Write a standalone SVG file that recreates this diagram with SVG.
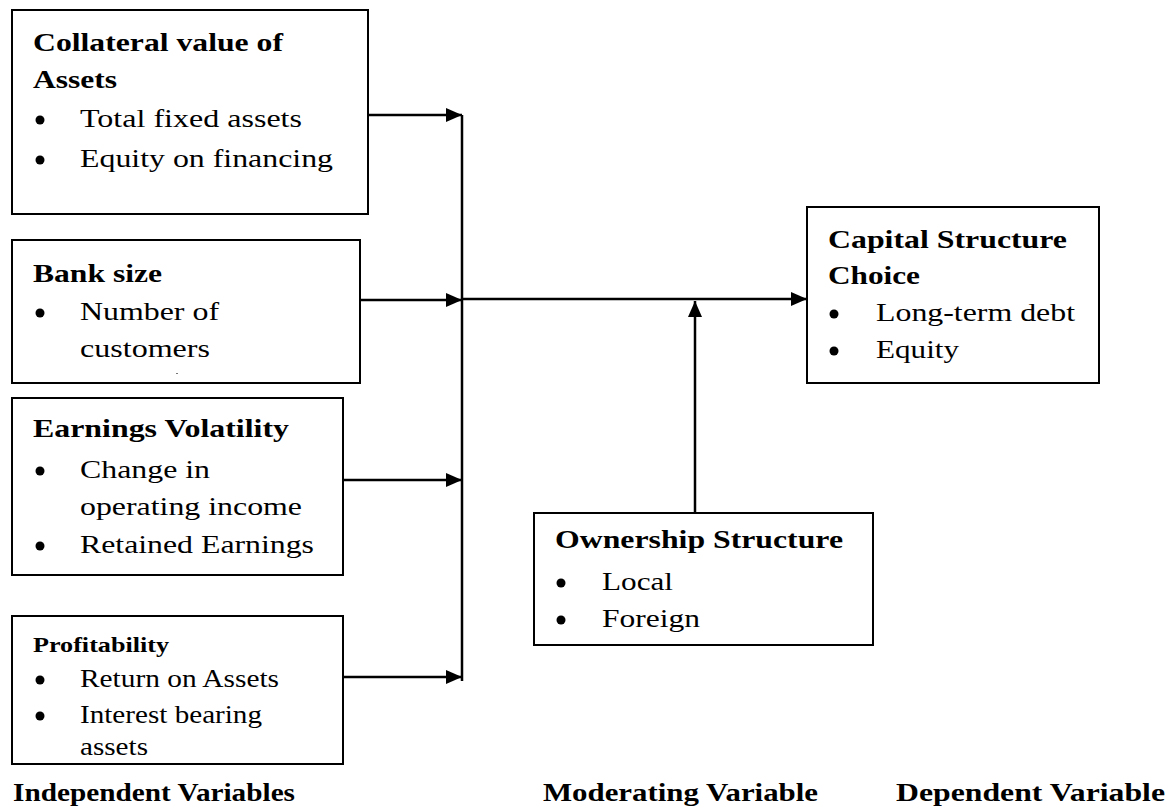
<svg xmlns="http://www.w3.org/2000/svg" width="1168" height="807" viewBox="0 0 1168 807">
<style>
.box{fill:#fff;stroke:#000;stroke-width:2}
.t{font-family:"Liberation Serif","Times New Roman",serif;font-size:26px;fill:#000}
.b{font-weight:bold}
.s{font-size:21px}
.m{font-size:25px}
.c{stroke:#000;stroke-width:2.5;fill:none}
</style>
<defs>
<marker id="ah2" markerWidth="16" markerHeight="14" refX="16" refY="7" orient="auto" markerUnits="userSpaceOnUse" viewBox="0 0 16 14">
<path d="M0,0 L16,7 L0,14 z" fill="#000"/>
</marker>
<circle id="bul" r="4.5" fill="#000"/>
</defs>
<rect width="1168" height="807" fill="#fff"/>

<g id="connectors">
<line class="c" x1="462" y1="115" x2="462" y2="681"/>
<line class="c" x1="361" y1="115" x2="462" y2="115" marker-end="url(#ah2)"/>
<line class="c" x1="360" y1="300" x2="462" y2="300" marker-end="url(#ah2)"/>
<line class="c" x1="343" y1="480" x2="462" y2="480" marker-end="url(#ah2)"/>
<line class="c" x1="343" y1="677" x2="462" y2="677" marker-end="url(#ah2)"/>
<line class="c" x1="462" y1="299" x2="807" y2="299" marker-end="url(#ah2)"/>
<line class="c" x1="695" y1="513" x2="695" y2="301" marker-end="url(#ah2)"/>
</g>

<g id="collateral">
<rect class="box" x="12" y="10" width="356" height="204"/>
<text class="t b" x="33" y="51" textLength="250" lengthAdjust="spacingAndGlyphs">Collateral value of</text>
<text class="t b" x="33" y="88" textLength="84" lengthAdjust="spacingAndGlyphs">Assets</text>
<use href="#bul" x="40" y="120"/>
<text class="t" x="80" y="127" textLength="222" lengthAdjust="spacingAndGlyphs">Total fixed assets</text>
<use href="#bul" x="40" y="160"/>
<text class="t" x="80" y="167" textLength="253" lengthAdjust="spacingAndGlyphs">Equity on financing</text>
</g>

<g id="banksize">
<rect class="box" x="12" y="240" width="348" height="143"/>
<text class="t b" x="33" y="282" textLength="129" lengthAdjust="spacingAndGlyphs">Bank size</text>
<use href="#bul" x="40" y="313"/>
<text class="t" x="80" y="320" textLength="139" lengthAdjust="spacingAndGlyphs">Number of</text>
<text class="t" x="80" y="357" textLength="130" lengthAdjust="spacingAndGlyphs">customers</text>
<rect x="176" y="373" width="2" height="1" fill="#777"/>
</g>

<g id="earnings">
<rect class="box" x="12" y="398" width="331" height="177"/>
<text class="t b" x="33" y="437" textLength="256" lengthAdjust="spacingAndGlyphs">Earnings Volatility</text>
<use href="#bul" x="40" y="471"/>
<text class="t" x="80" y="478" textLength="130" lengthAdjust="spacingAndGlyphs">Change in</text>
<text class="t" x="80" y="515" textLength="222" lengthAdjust="spacingAndGlyphs">operating income</text>
<use href="#bul" x="40" y="546"/>
<text class="t" x="80" y="553" textLength="234" lengthAdjust="spacingAndGlyphs">Retained Earnings</text>
</g>

<g id="profitability">
<rect class="box" x="12" y="616" width="331" height="148"/>
<text class="t b s" x="33" y="652" textLength="136" lengthAdjust="spacingAndGlyphs">Profitability</text>
<use href="#bul" x="40" y="680"/>
<text class="t m" x="80" y="687" textLength="199" lengthAdjust="spacingAndGlyphs">Return on Assets</text>
<use href="#bul" x="40" y="716"/>
<text class="t m" x="80" y="723" textLength="182" lengthAdjust="spacingAndGlyphs">Interest bearing</text>
<text class="t m" x="80" y="755" textLength="68" lengthAdjust="spacingAndGlyphs">assets</text>
</g>

<g id="capital">
<rect class="box" x="807" y="207" width="292" height="176"/>
<text class="t b" x="828" y="248" textLength="239" lengthAdjust="spacingAndGlyphs">Capital Structure</text>
<text class="t b" x="828" y="284" textLength="92" lengthAdjust="spacingAndGlyphs">Choice</text>
<use href="#bul" x="834" y="314"/>
<text class="t" x="876" y="321" textLength="199" lengthAdjust="spacingAndGlyphs">Long-term debt</text>
<use href="#bul" x="834" y="351"/>
<text class="t" x="876" y="358" textLength="83" lengthAdjust="spacingAndGlyphs">Equity</text>
</g>

<g id="ownership">
<rect class="box" x="534" y="513" width="339" height="132"/>
<text class="t b" x="555" y="548" textLength="288" lengthAdjust="spacingAndGlyphs">Ownership Structure</text>
<use href="#bul" x="561" y="583"/>
<text class="t" x="602" y="590" textLength="71" lengthAdjust="spacingAndGlyphs">Local</text>
<use href="#bul" x="561" y="620"/>
<text class="t" x="602" y="627" textLength="98" lengthAdjust="spacingAndGlyphs">Foreign</text>
</g>

<g id="labels">
<text class="t b" x="13" y="801" textLength="282" lengthAdjust="spacingAndGlyphs">Independent Variables</text>
<text class="t b" x="543" y="801" textLength="275" lengthAdjust="spacingAndGlyphs">Moderating Variable</text>
<text class="t b" x="896" y="801" textLength="269" lengthAdjust="spacingAndGlyphs">Dependent Variable</text>
</g>
</svg>
